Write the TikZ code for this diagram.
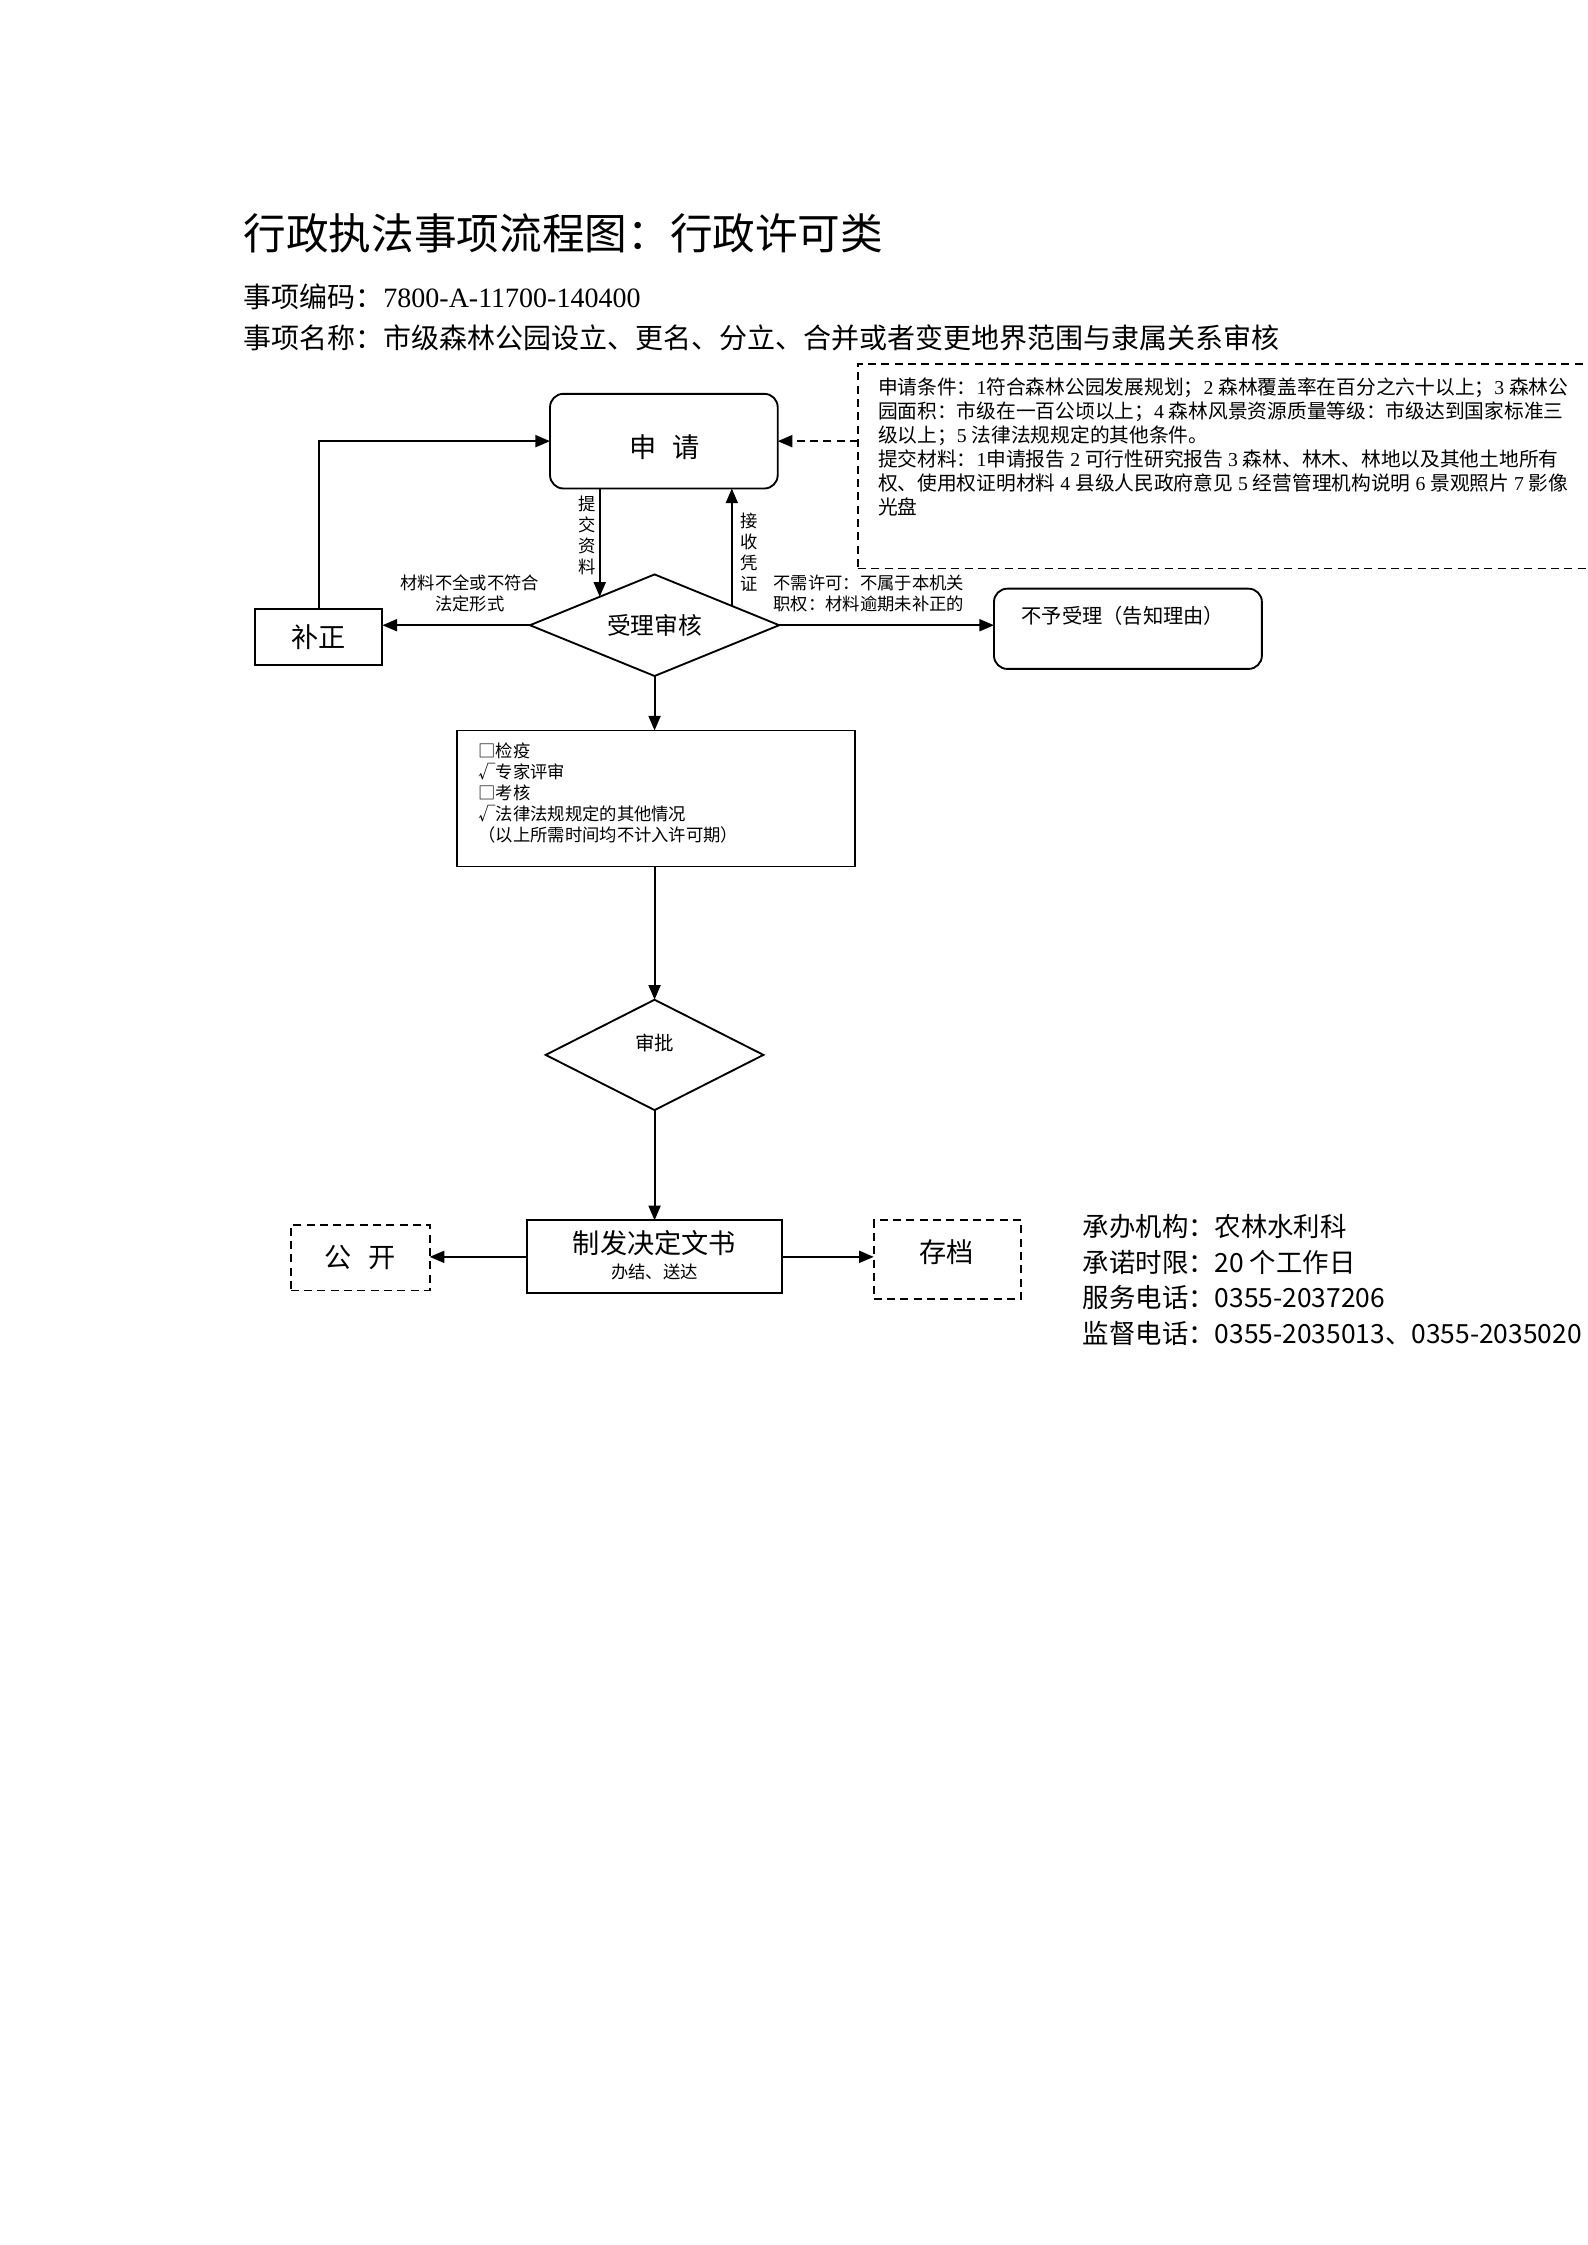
\documentclass[tikz,border=0pt]{standalone}
\usepackage{fontspec}
\setmainfont{Noto Sans CJK SC}
\newfontfamily\lat{Liberation Serif}
\usetikzlibrary{shapes.geometric,arrows.meta,calc}
\newcommand\nm[1]{{\lat #1}}
\begin{document}
\begin{tikzpicture}[x=0.5373pt,y=-0.5373pt,
  box/.style={draw, line width=0.7pt, inner sep=0pt, outer sep=0pt},
  rbox/.style={box, rounded corners=5pt},
  dbox/.style={box, dash pattern=on 3pt off 2pt},
  dia/.style={box, diamond},
  arr/.style={line width=0.7pt, -{Triangle[length=5.5pt,width=4.5pt]}},
  darr/.style={arr, dash pattern=on 3pt off 2pt},
  txt/.style={inner sep=0pt, outer sep=0pt},
  big/.style={font=\fontsize{10.2pt}{10.2pt}\selectfont},
  small/.style={font=\fontsize{6.5pt}{7.9pt}\selectfont},
]
\useasboundingbox (0,0) rectangle (1108,1567.4);

% header
\node[txt, anchor=west, font=\fontsize{16pt}{16pt}\selectfont] (title) at (170,163) {行政执法事项流程图：行政许可类};
\node[txt, anchor=west, font=\fontsize{10.5pt}{10.5pt}\selectfont] (code) at (170,207) {事项编码：\nm{7800-A-11700-140400}};
\node[txt, anchor=west, font=\fontsize{10.5pt}{10.5pt}\selectfont] (name) at (170,236) {事项名称：市级森林公园设立、更名、分立、合并或者变更地界范围与隶属关系审核};

% condition box
\node[dbox, anchor=north west, minimum width=280pt, minimum height=76.8pt] (cond) at (599,254) {};
\node[txt, anchor=north west, align=left, font=\fontsize{7.4pt}{9pt}\selectfont] (condtxt) at (613,263.8) {申请条件：\nm{1}符合森林公园发展规划；\nm{2 }森林覆盖率在百分之六十以上；\nm{3 }森林公\\
园面积：市级在一百公顷以上；\nm{4 }森林风景资源质量等级：市级达到国家标准三\\
级以上；\nm{5 }法律法规规定的其他条件。\\
提交材料：\nm{1}申请报告\nm{ 2 }可行性研究报告\nm{ 3 }森林、林木、林地以及其他土地所有\\
权、使用权证明材料\nm{ 4 }县级人民政府意见\nm{ 5 }经营管理机构说明\nm{ 6 }景观照片\nm{ 7 }影像\\
光盘};

% flow nodes
\node[rbox, minimum width=85.4pt, minimum height=35.5pt] (shen) at (463.5,308) {};
\node[txt, big] (shentxt) at (464,312) {申\hspace{0.6em}请};
\node[box, big, minimum width=47.8pt, minimum height=21pt] (buzheng) at (222.5,444.5) {补正};
\node[dia, minimum width=93.5pt, minimum height=38.1pt, aspect=2.45, font=\fontsize{8.9pt}{8.9pt}\selectfont] (shouli) at (457,436.5) {受理审核};
\node[rbox, minimum width=100.5pt, minimum height=30.1pt] (buyu) at (787.5,439) {};
\node[txt, font=\fontsize{7.6pt}{7.6pt}\selectfont] (buyutxt) at (784,430) {不予受理（告知理由）};
\node[box, minimum width=149.4pt, minimum height=51pt] (check) at (458,557.5) {};
\node[txt, small, anchor=north west, align=left] (checktxt) at (334,518.6) {□检疫\\√专家评审\\□考核\\√法律法规规定的其他情况\\（以上所需时间均不计入许可期）};
\node[dia, minimum width=81.7pt, minimum height=41.4pt, aspect=2] (shenpi) at (457,736.5) {};
\node[txt, font=\fontsize{7.3pt}{7.3pt}\selectfont] (shenpitxt) at (457,728) {审批};
\node[box, minimum width=95.6pt, minimum height=27.4pt] (zhifa) at (457,877.5) {};
\node[txt, big] (zhifatxt) at (457,868) {制发决定文书};
\node[txt, small] (banjie) at (457,888) {办结、送达};
\node[dbox, big, minimum width=52.1pt, minimum height=24.7pt] (gongkai) at (251.5,878) {公\hspace{0.6em}开};
\node[dbox, minimum width=55.3pt, minimum height=29.6pt] (cundang) at (661.5,879.5) {};
\node[txt, big] (cundangtxt) at (661,874.5) {存档};

% labels
\node[txt, small, align=center] (tjlabel) at (410,374) {提\\交\\资\\料};
\node[txt, small, align=center] (jslabel) at (523,385.5) {接\\收\\凭\\证};
\node[txt, small, align=center] (bqlabel) at (328,414.5) {材料不全或不符合\\法定形式};
\node[txt, small, align=left, anchor=west] (bxlabel) at (540,414.5) {不需许可：不属于本机关\\职权：材料逾期未补正的};

% info
\node[txt, anchor=north west, align=left, font=\fontsize{9.9pt}{13.4pt}\selectfont] (info) at (756,847.7) {承办机构：农林水利科\\承诺时限：20 个工作日\\服务电话：0355-2037206\\监督电话：0355-2035013、0355-2035020};

% connectors
\coordinate (tjend) at ($(shouli.north)!0.44!(shouli.west)$);
\coordinate (jsstart) at ($(shouli.north)!0.62!(shouli.east)$);
\draw[arr] (shen.south -| tjend) -- (tjend);
\draw[arr] (jsstart) -- (jsstart |- shen.south);
\draw[arr] (buzheng.north) |- (shen.west);
\draw[darr] (cond.west |- shen.east) -- (shen.east);
\draw[arr] (shouli.west) -- (shouli.west -| buzheng.east);
\draw[arr] (shouli.east) -- (shouli.east -| buyu.west);
\draw[arr] (shouli.south) -- (shouli.south |- check.north);
\draw[arr] (check.south -| shenpi.north) -- (shenpi.north);
\draw[arr] (shenpi.south) -- (shenpi.south |- zhifa.north);
\draw[arr] (zhifa.west) -- (zhifa.west -| gongkai.east);
\draw[arr] (zhifa.east) -- (zhifa.east -| cundang.west);
\end{tikzpicture}
\end{document}
